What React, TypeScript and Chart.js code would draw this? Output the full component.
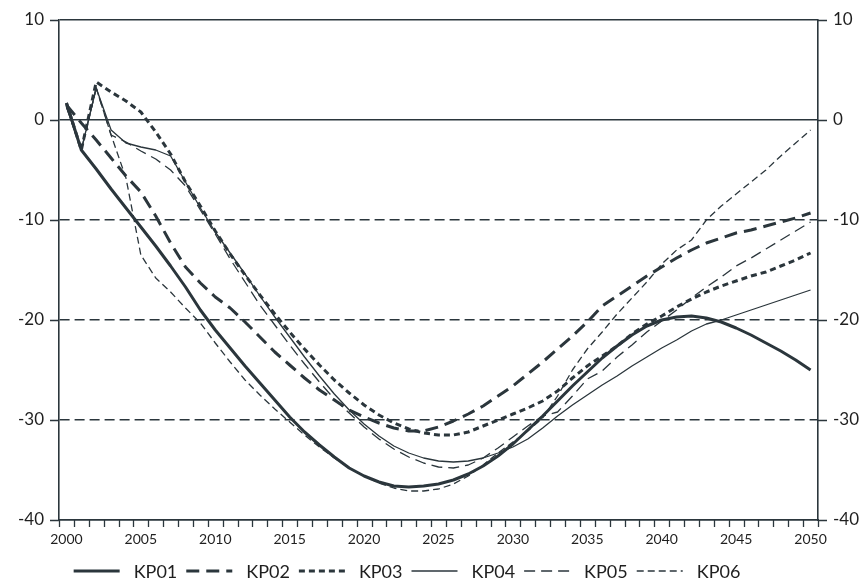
import React, { useEffect, useRef } from 'react';
import { Chart, registerables } from 'chart.js';

Chart.register(...registerables);

const years = [
  '2000','2001','2002','2003','2004','2005','2006','2007','2008','2009',
  '2010','2011','2012','2013','2014','2015','2016','2017','2018','2019',
  '2020','2021','2022','2023','2024','2025','2026','2027','2028','2029',
  '2030','2031','2032','2033','2034','2035','2036','2037','2038','2039',
  '2040','2041','2042','2043','2044','2045','2046','2047','2048','2049',
  '2050',
];

const yTicks = [10, 0, -10, -20, -30, -40];

const kp01 = [
  1.7, -3.0, -4.9, -6.9, -8.8, -10.7, -12.6, -14.6, -16.7, -19.0,
  -21.0, -22.8, -24.6, -26.3, -28.0, -29.7, -31.2, -32.5, -33.7, -34.8,
  -35.6, -36.2, -36.6, -36.7, -36.6, -36.4, -36.0, -35.4, -34.6, -33.6,
  -32.4, -31.0, -29.6, -28.1, -26.6, -25.2, -23.8, -22.6, -21.5, -20.6,
  -20.0, -19.7, -19.6, -19.8, -20.2, -20.8, -21.5, -22.3, -23.1, -24.0,
  -25.0,
];

const kp02 = [
  1.5, -0.3, -2.0, -3.8, -5.6, -7.2, -9.6, -12.3, -14.7, -16.3,
  -17.7, -18.8, -20.2, -21.7, -23.2, -24.5, -25.8, -27.0, -28.0, -29.0,
  -29.7, -30.3, -30.8, -31.1, -31.1, -30.7, -30.1, -29.4, -28.6, -27.6,
  -26.6, -25.4, -24.2, -22.9, -21.6, -20.2, -18.6, -17.6, -16.6, -15.6,
  -14.7, -13.8, -13.0, -12.3, -11.8, -11.3, -11.0, -10.6, -10.2, -9.8,
  -9.3,
];

const kp03 = [
  1.7, -3.0, 3.8, 2.8, 1.9, 0.8, -1.2, -3.4, -6.2, -8.6,
  -11.1, -13.4, -15.5, -17.5, -19.4, -21.2, -22.9, -24.5, -26.0, -27.3,
  -28.5, -29.5, -30.3, -30.9, -31.3, -31.5, -31.5, -31.2, -30.6, -30.0,
  -29.4, -28.8, -28.1, -27.1, -25.8, -24.6, -23.6, -22.6, -21.4, -20.4,
  -19.6, -18.7, -17.9, -17.2, -16.6, -16.1, -15.6, -15.2, -14.6, -14.0,
  -13.3,
];

const kp04 = [
  1.5, -3.0, 3.2, -1.0, -2.3, -2.7, -3.0, -3.6, -6.2, -8.8,
  -11.2, -13.3, -15.4, -17.6, -19.7, -21.7, -23.7, -25.6, -27.4, -29.0,
  -30.4, -31.6, -32.6, -33.3, -33.8, -34.1, -34.2, -34.1, -33.8, -33.3,
  -32.7, -31.9, -30.8, -29.6, -28.5, -27.5, -26.5, -25.6, -24.6, -23.7,
  -22.8, -22.0, -21.1, -20.4, -20.0, -19.5, -19.0, -18.5, -18.0, -17.5,
  -17.0,
];

const kp05 = [
  1.3, -3.0, 3.2, -1.5, -2.2, -3.1, -3.9, -5.0, -6.6, -9.0,
  -11.4, -13.9, -16.2, -18.5, -20.5, -22.5, -24.4, -26.2, -27.9, -29.3,
  -30.7, -31.9, -32.9, -33.7, -34.3, -34.7, -34.8, -34.5, -33.8, -32.8,
  -31.7, -30.6, -29.6, -29.2, -27.6, -25.9, -25.1, -23.7, -22.5, -21.2,
  -20.1, -19.0, -17.8, -16.7, -15.7, -14.6, -13.8, -12.9, -12.0, -11.1,
  -10.2,
];

const kp06 = [
  1.3, -3.0, 3.2, -1.5, -5.8, -13.5, -15.8, -17.2, -18.8, -20.3,
  -22.3, -24.2, -26.0, -27.5, -28.9, -30.2, -31.5, -32.7, -33.8, -34.8,
  -35.6, -36.3, -36.8, -37.1, -37.1, -36.9, -36.4, -35.6, -34.5, -33.3,
  -32.2, -31.1, -29.8, -27.6, -25.0, -22.9, -21.2, -19.4, -17.8, -16.2,
  -14.4, -13.0, -12.0, -10.0, -8.6, -7.4, -6.2, -5.0, -3.6, -2.3,
  -1.0,
];

const seriesLabels = ['KP01', 'KP02', 'KP03', 'KP04', 'KP05', 'KP06'];

const FONT = "Lato, 'Open Sans', sans-serif";
const INK = '#2b363c';
const TEXT = '#1f1f1f';
const DASHED_GRID = [-10, -20, -30];

const tickPlugin = {
  id: 'tickMarks',
  afterDraw(chart: any) {
    const { ctx, chartArea, scales } = chart;
    const xs = scales.x;
    const n = xs.ticks.length;
    const step = (chartArea.right - chartArea.left) / n;
    ctx.save();
    ctx.strokeStyle = INK;
    ctx.lineWidth = 1.3;
    ctx.setLineDash([]);
    ctx.beginPath();
    for (let i = 0; i <= n; i++) {
      const px = Math.round(chartArea.left + i * step) + 0.5;
      ctx.moveTo(px, chartArea.bottom);
      ctx.lineTo(px, chartArea.bottom + 7);
    }
    for (const t of scales.y.ticks) {
      const py = Math.round(scales.y.getPixelForValue(t.value)) + 0.5;
      ctx.moveTo(chartArea.left - 9, py);
      ctx.lineTo(chartArea.left, py);
      ctx.moveTo(chartArea.right, py);
      ctx.lineTo(chartArea.right + 9, py);
    }
    ctx.stroke();
    ctx.restore();
  },
};

const legendPlugin = {
  id: 'bottomLegend',
  afterDraw(chart: any) {
    const ctx = chart.ctx;
    ctx.save();
    ctx.font = `18px ${FONT}`;
    const sampleW = 46;
    const gap = 14;
    const spacing = 9;
    const items = chart.data.datasets.map((ds: any) => ({ ds, w: ctx.measureText(ds.label).width }));
    const total =
      items.reduce((a: number, it: any) => a + sampleW + gap + it.w, 0) + spacing * (items.length - 1);
    let x = 407 - total / 2;
    const y = 571;
    for (const it of items) {
      ctx.beginPath();
      ctx.setLineDash(it.ds.borderDash || []);
      ctx.lineWidth = it.ds.borderWidth;
      ctx.strokeStyle = it.ds.borderColor;
      ctx.lineCap = 'butt';
      ctx.moveTo(x, y);
      ctx.lineTo(x + sampleW, y);
      ctx.stroke();
      ctx.setLineDash([]);
      ctx.fillStyle = TEXT;
      ctx.textBaseline = 'middle';
      ctx.textAlign = 'left';
      ctx.fillText(it.ds.label, x + sampleW + gap, y + 1);
      x += sampleW + gap + it.w + spacing;
    }
    ctx.restore();
  },
};

export default function App() {
  const canvasRef = useRef<HTMLCanvasElement | null>(null);

  useEffect(() => {
    document.body.style.margin = '0';
    const canvas = canvasRef.current;
    if (!canvas) return;

    const mk = (label: string, data: number[], width: number, dash: number[]) => ({
      label,
      data,
      borderColor: INK,
      backgroundColor: INK,
      borderWidth: width,
      borderDash: dash,
      pointRadius: 0,
      pointHoverRadius: 0,
      tension: 0,
      fill: false,
      borderJoinStyle: 'round' as const,
      borderCapStyle: 'butt' as const,
      yAxisID: 'y',
    });

    const yScaleCommon = {
      min: yTicks[yTicks.length - 1],
      max: yTicks[0],
      ticks: {
        stepSize: 10,
        padding: 6,
        color: TEXT,
        font: { family: FONT, size: 17 },
      },
    };

    const chart = new Chart(canvas, {
      type: 'line',
      data: {
        labels: years,
        datasets: [
          mk(seriesLabels[0], kp01, 3, []),
          mk(seriesLabels[1], kp02, 3, [13, 7]),
          mk(seriesLabels[2], kp03, 3, [6, 4]),
          mk(seriesLabels[3], kp04, 1.3, []),
          mk(seriesLabels[4], kp05, 1.3, [11, 6]),
          mk(seriesLabels[5], kp06, 1.3, [7, 4]),
        ],
      },
      options: {
        responsive: false,
        animation: false,
        events: [],
        layout: { padding: { top: 20, left: 0, right: 0, bottom: 0 } },
        plugins: {
          legend: { display: false },
          tooltip: { enabled: false },
          title: { display: false },
        },
        scales: {
          x: {
            type: 'category',
            offset: true,
            grid: {
              display: true,
              offset: true,
              drawOnChartArea: false,
              drawTicks: true,
              tickLength: 7,
              tickWidth: 0,
            },
            border: { display: true, color: INK, width: 1.6 },
            ticks: {
              autoSkip: false,
              maxRotation: 0,
              minRotation: 0,
              padding: 4,
              color: TEXT,
              font: { family: FONT, size: 14 },
              callback: (_v: any, i: number) => (Number(years[i]) % 5 === 0 ? years[i] : ''),
            },
            afterFit: (s: any) => {
              s.height = 59;
            },
          },
          y: {
            ...yScaleCommon,
            position: 'left',
            grid: {
              color: INK,
              lineWidth: 1.5,
              drawTicks: true,
              tickLength: 9,
              tickWidth: 0,
            },
            border: {
              display: true,
              color: INK,
              width: 1.6,
              dash: (ctx: any) => (ctx.tick && DASHED_GRID.includes(ctx.tick.value) ? [10, 5] : []),
            },
            afterFit: (s: any) => {
              s.width = 59;
            },
          },
          y2: {
            ...yScaleCommon,
            position: 'right',
            grid: {
              drawOnChartArea: false,
              drawTicks: true,
              tickLength: 9,
              tickWidth: 0,
            },
            border: { display: true, color: INK, width: 1.6 },
            afterFit: (s: any) => {
              s.width = 43;
            },
          },
        },
      },
      plugins: [tickPlugin, legendPlugin],
    } as any);

    return () => {
      chart.destroy();
    };
  }, []);

  return (
    <div style={{ width: 861, height: 579, overflow: 'hidden' }}>
      <canvas ref={canvasRef} width={861} height={579} style={{ display: 'block' }} />
    </div>
  );
}
